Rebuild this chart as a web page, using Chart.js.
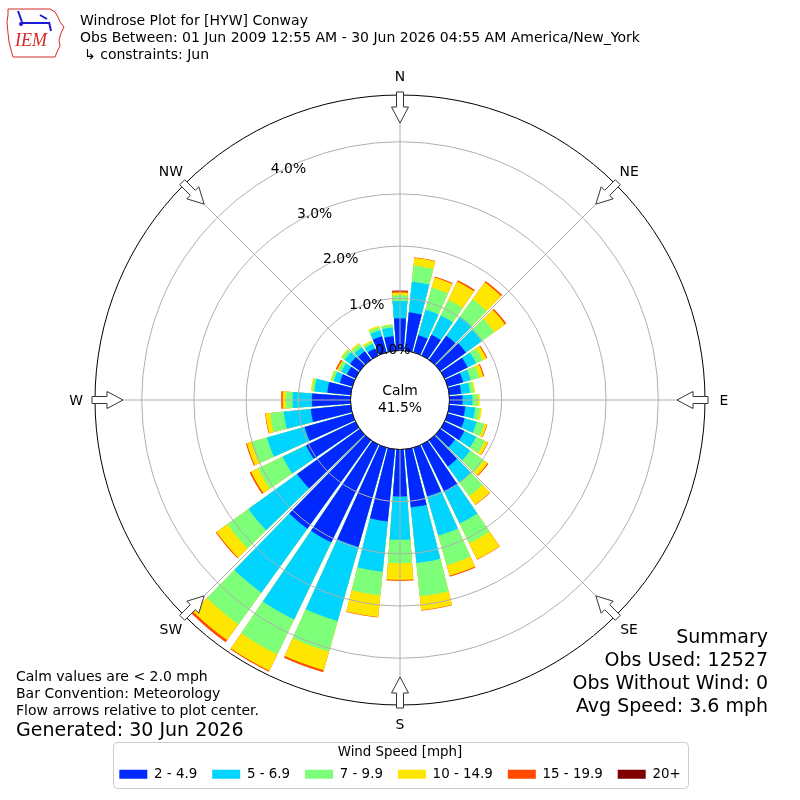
<!DOCTYPE html>
<html>
<head>
<meta charset="utf-8">
<title>Windrose Plot for [HYW] Conway</title>
<script src="https://cdn.jsdelivr.net/npm/chart.js@4.4.1/dist/chart.umd.min.js"></script>
<style>
  html, body { margin: 0; padding: 0; background: #fff; }
  #wrap { width: 800px; height: 800px; }
</style>
</head>
<body>
<div id="wrap"><canvas id="rose" width="800" height="800"></canvas></div>
<script>
// direction bins (deg, meteorological convention, wind FROM)
const directions = [0, 10, 20, 30, 40, 50, 60, 70, 80, 90, 100, 110,
                    120, 130, 140, 150, 160, 170, 180, 190, 200, 210, 220, 230,
                    240, 250, 260, 270, 280, 290, 300, 310, 320, 330, 340, 350];
const speedLabels = ['2 - 4.9', '5 - 6.9', '7 - 9.9', '10 - 14.9', '15 - 19.9', '20+'];

// percent of all obs falling in each direction, one list per speed bin
const mph2to5 = [0.62, 0.74, 0.34, 0.44, 0.57, 0.61, 0.49, 0.31, 0.23, 0.25, 0.31, 0.34,
                 0.42, 0.35, 0.62, 1.00, 0.97, 1.12, 0.90, 1.39, 1.98, 2.08, 2.09, 1.48,
                 1.05, 0.95, 0.77, 0.74, 0.45, 0.25, 0.18, 0.23, 0.20, 0.15, 0.32, 0.28];
const mph5to7 = [0.33, 0.59, 0.51, 0.41, 0.45, 0.37, 0.18, 0.15, 0.17, 0.19, 0.19, 0.24,
                 0.25, 0.36, 0.38, 0.68, 0.78, 1.07, 0.83, 0.97, 1.47, 1.64, 1.51, 1.15,
                 0.50, 0.75, 0.52, 0.37, 0.25, 0.12, 0.12, 0.13, 0.10, 0.10, 0.12, 0.17];
const mph7to10 = [0.11, 0.31, 0.44, 0.33, 0.41, 0.30, 0.14, 0.17, 0.07, 0.10, 0.09, 0.15,
                  0.19, 0.32, 0.32, 0.42, 0.59, 0.64, 0.45, 0.45, 0.61, 0.74, 0.75, 0.50,
                  0.52, 0.30, 0.26, 0.13, 0.04, 0.05, 0.07, 0.07, 0.07, 0.04, 0.06, 0.05];
const mph10to15 = [0.05, 0.15, 0.20, 0.39, 0.40, 0.25, 0.08, 0.08, 0.03, 0.04, 0.04, 0.05,
                   0.06, 0.09, 0.20, 0.34, 0.21, 0.27, 0.32, 0.42, 0.37, 0.35, 0.37, 0.25,
                   0.15, 0.10, 0.09, 0.06, 0.03, 0.02, 0.02, 0.02, 0.03, 0.03, 0.03, 0.01];
const mph15to20 = [0.03, 0.01, 0.02, 0.03, 0.03, 0.03, 0.02, 0.02, 0, 0, 0, 0.01,
                   0.01, 0.02, 0.01, 0.01, 0.02, 0.01, 0.02, 0.01, 0.04, 0.02, 0.05, 0.02,
                   0.03, 0.02, 0.01, 0.03, 0, 0, 0.03, 0, 0, 0, 0, 0];
const mph20up = [0.01, 0, 0, 0, 0, 0, 0, 0, 0, 0, 0, 0,
                 0, 0, 0, 0, 0, 0, 0, 0, 0, 0, 0, 0,
                 0, 0, 0, 0, 0, 0, 0, 0, 0, 0, 0, 0];

const calmPct = 41.5;
const ringPct = [1, 2, 3, 4];
const compass = ['N', 'NE', 'E', 'SE', 'S', 'SW', 'W', 'NW'];
const headerLines = ['Windrose Plot for [HYW] Conway',
                     'Obs Between: 01 Jun 2009 12:55 AM - 30 Jun 2026 04:55 AM America/New_York',
                     '\u21b3 constraints: Jun'];
const summaryLines = ['Summary', 'Obs Used: 12527', 'Obs Without Wind: 0', 'Avg Speed: 3.6 mph'];
const noteLines = ['Calm values are < 2.0 mph', 'Bar Convention: Meteorology',
                   'Flow arrows relative to plot center.'];
const generatedText = 'Generated: 30 Jun 2026';

const binColors = ['#0028ff', '#00d4ff', '#7dff7a', '#ffe600', '#ff4a00', '#800000'];
const barDeg = 8.5, gapDeg = 1.5;
// radial axis runs below zero so the calm circle sits inside the 0% ring
const rMin = -0.948, rMax = 4.895;

Chart.defaults.font.family = '"DejaVu Sans", sans-serif';
Chart.defaults.color = '#000';

// stacked bars: each layer goes out to the running total, layer 0 is painted last
const speedBins = [mph2to5, mph5to7, mph7to10, mph10to15, mph15to20, mph20up];
const running = directions.map(() => 0);
const datasets = speedBins.map((bin, k) => {
  const data = [];
  directions.forEach((d, i) => {
    running[i] += bin[i];
    data.push(bin[i] > 0 ? running[i] : null, null); // bar slot, then gap slot
  });
  return {
    label: speedLabels[k],
    data: data,
    backgroundColor: binColors[k],
    borderWidth: 0,
    angle: c => (c.dataIndex % 2 ? gapDeg : barDeg)
  };
});
const slotLabels = [];
directions.forEach(d => slotLabels.push(d + '\u00b0', ''));

function polar(cx, cy, r, deg) {
  const a = deg * Math.PI / 180;
  return [cx + r * Math.sin(a), cy - r * Math.cos(a)];
}

function drawLogo(ctx) {
  ctx.save();
  ctx.strokeStyle = '#d42a2a';
  ctx.lineWidth = 1;
  const outline = [[8, 9], [50, 9], [55, 12], [58, 17], [60, 22], [64, 27], [61, 33],
                   [59, 40], [60, 46], [57, 52], [55, 57], [13, 57], [11, 50], [9, 42],
                   [8, 33], [7, 22], [8, 15]];
  ctx.beginPath();
  outline.forEach((p, i) => (i ? ctx.lineTo(p[0], p[1]) : ctx.moveTo(p[0], p[1])));
  ctx.closePath();
  ctx.stroke();
  ctx.fillStyle = '#1a1ad8';
  ctx.strokeStyle = '#1a1ad8';
  ctx.lineWidth = 2;
  ctx.beginPath(); ctx.moveTo(18, 11); ctx.lineTo(22, 22); ctx.stroke();
  ctx.beginPath(); ctx.moveTo(22, 23); ctx.lineTo(50, 23); ctx.stroke();
  ctx.beginPath(); ctx.moveTo(40, 15); ctx.lineTo(47, 19); ctx.stroke();
  ctx.beginPath(); ctx.moveTo(49, 22); ctx.lineTo(51, 31); ctx.stroke();
  ctx.beginPath(); ctx.arc(21, 24, 2, 0, Math.PI * 2); ctx.fill();
  ctx.fillStyle = '#d42a2a';
  ctx.font = 'italic 18px "Liberation Serif", serif';
  ctx.textAlign = 'left';
  ctx.textBaseline = 'alphabetic';
  ctx.fillText('IEM', 15, 46);
  ctx.restore();
}

const roseDecor = {
  id: 'roseDecor',
  afterDatasetsDraw(chart) {
    const s = chart.scales.r, ctx = chart.ctx;
    const cx = s.xCenter, cy = s.yCenter;
    const r0 = s.getDistanceFromCenterForValue(0);
    const rOut = s.drawingArea;
    ctx.save();
    ctx.beginPath();
    ctx.arc(cx, cy, r0, 0, Math.PI * 2);
    ctx.fillStyle = '#fff';
    ctx.fill();
    ctx.lineWidth = 1;
    ctx.strokeStyle = '#000';
    ctx.stroke();
    ctx.strokeStyle = '#b0b0b0';
    for (let d = 0; d < 360; d += 45) {
      const p0 = polar(cx, cy, r0, d), p1 = polar(cx, cy, rOut, d);
      ctx.beginPath();
      ctx.moveTo(p0[0], p0[1]);
      ctx.lineTo(p1[0], p1[1]);
      ctx.stroke();
    }
    ctx.restore();
  },
  afterDraw(chart) {
    const s = chart.scales.r, ctx = chart.ctx;
    const cx = s.xCenter, cy = s.yCenter;
    const rOut = s.drawingArea;
    ctx.save();

    // ring labels
    ctx.fillStyle = '#000';
    ctx.font = '13.9px "DejaVu Sans"';
    ctx.textAlign = 'left';
    ctx.textBaseline = 'bottom';
    [0].concat(ringPct).forEach(v => {
      const p = polar(cx, cy, s.getDistanceFromCenterForValue(v), -30);
      ctx.fillText(v.toFixed(1) + '%', p[0], p[1]);
    });

    // compass arrows and labels
    const arrow = [[308, -3.5], [293, -3.5], [293, -8.5], [277, 0], [293, 8.5], [293, 3.5], [308, 3.5]];
    compass.forEach((name, i) => {
      const d = i * 45, a = d * Math.PI / 180;
      ctx.beginPath();
      arrow.forEach((uv, j) => {
        const x = cx + uv[0] * Math.sin(a) + uv[1] * Math.cos(a);
        const y = cy - uv[0] * Math.cos(a) + uv[1] * Math.sin(a);
        j ? ctx.lineTo(x, y) : ctx.moveTo(x, y);
      });
      ctx.closePath();
      ctx.fillStyle = '#fff';
      ctx.fill();
      ctx.strokeStyle = '#333';
      ctx.lineWidth = 1;
      ctx.stroke();
      const p = polar(cx, cy, rOut + 19, d);
      ctx.fillStyle = '#000';
      ctx.textAlign = 'center';
      ctx.textBaseline = 'alphabetic';
      ctx.fillText(name, p[0], p[1] + 5);
    });

    // calm text
    ctx.textAlign = 'center';
    ctx.fillText('Calm', cx, cy - 5);
    ctx.fillText(calmPct.toFixed(1) + '%', cx, cy + 12);

    // header
    drawLogo(ctx);
    ctx.textAlign = 'left';
    ctx.font = '14px "DejaVu Sans"';
    ctx.fillText(headerLines[0], 80, 25);
    ctx.fillText(headerLines[1], 80, 42);
    ctx.fillText(headerLines[2], 84, 59);

    // notes bottom left
    noteLines.forEach((t, i) => ctx.fillText(t, 16, 681 + i * 17));
    ctx.font = '19px "DejaVu Sans"';
    ctx.fillText(generatedText, 16, 736);

    // summary bottom right
    ctx.textAlign = 'right';
    summaryLines.forEach((t, i) => ctx.fillText(t, 768, 643 + i * 23));

    // legend frame
    const lg = chart.legend, hb = lg.legendHitBoxes;
    const last = hb[hb.length - 1];
    const x0 = hb[0].left - 6, x1 = last.left + last.width + 8;
    ctx.strokeStyle = '#cccccc';
    ctx.lineWidth = 1;
    ctx.beginPath();
    ctx.roundRect(Math.round(x0) + 0.5, Math.round(lg.top) - 0.5, Math.round(x1 - x0), 46, 4);
    ctx.stroke();
    ctx.restore();
  }
};

new Chart(document.getElementById('rose'), {
  type: 'polarArea',
  data: { labels: slotLabels, datasets: datasets },
  options: {
    responsive: false,
    animation: false,
    layout: { padding: { top: 58, bottom: 9, left: 95, right: 95 } },
    scales: {
      r: {
        min: rMin,
        max: rMax,
        startAngle: -barDeg / 2,
        ticks: { display: false },
        afterBuildTicks: axis => {
          axis.ticks = [0].concat(ringPct, [rMax]).map(v => ({ value: v }));
        },
        grid: {
          z: 1,
          circular: true,
          lineWidth: 1,
          color: c => (c.tick.value === 0 ? 'rgba(0,0,0,0)' : (c.tick.value === rMax ? '#000' : '#b0b0b0'))
        },
        angleLines: { display: false },
        pointLabels: { display: false }
      }
    },
    plugins: {
      tooltip: { enabled: false },
      legend: {
        position: 'bottom',
        title: {
          display: true,
          text: 'Wind Speed [mph]',
          font: { size: 13.4, lineHeight: 1 },
          padding: { top: 3, bottom: -6.4 }
        },
        labels: {
          boxWidth: 28,
          boxHeight: 9,
          padding: 15,
          font: { size: 13.4 },
          generateLabels: chart => chart.data.datasets.map((ds, i) => ({
            text: ds.label,
            fillStyle: ds.backgroundColor,
            strokeStyle: ds.backgroundColor,
            lineWidth: 0,
            hidden: false,
            datasetIndex: i,
            fontColor: '#000'
          }))
        }
      }
    }
  },
  plugins: [roseDecor]
});
</script>
</body>
</html>
